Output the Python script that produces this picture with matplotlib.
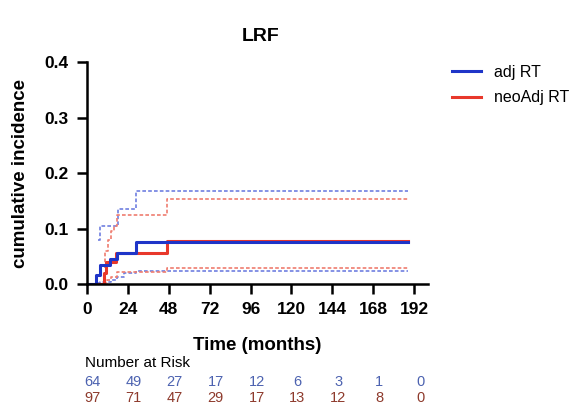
import numpy as np
import matplotlib.pyplot as plt
from matplotlib.transforms import blended_transform_factory

plt.rcParams['font.family'] = ['Liberation Sans', 'DejaVu Sans']

# cumulative incidence curves (months, value)
adj_t = [0, 5.3, 7.8, 13.6, 17.5, 29, 188]
adj_ci = [0, 0.017, 0.035, 0.045, 0.056, 0.075, 0.075]
adj_up_t = [6.5, 7.5, 18.5, 29, 188]
adj_up = [0.079, 0.105, 0.136, 0.168, 0.168]
adj_lo_t = [0, 6, 8, 14, 18, 22, 29, 188]
adj_lo = [0, 0.001, 0.004, 0.008, 0.013, 0.020, 0.024, 0.024]

neo_t = [0, 10, 11.5, 17, 47, 188]
neo_ci = [0, 0.02, 0.04, 0.056, 0.077, 0.077]
neo_up_t = [10, 11, 12.5, 14, 16, 18, 47, 188]
neo_up = [0.03, 0.06, 0.08, 0.095, 0.105, 0.124, 0.153, 0.153]
neo_lo_t = [0, 11, 12, 14, 18, 47, 188]
neo_lo = [0, 0.002, 0.008, 0.013, 0.022, 0.029, 0.029]

risk_times = [0, 24, 48, 72, 96, 120, 144, 168, 192]
adj_risk = [64, 49, 27, 17, 12, 6, 3, 1, 0]
neo_risk = [97, 71, 47, 29, 17, 13, 12, 8, 0]

blue = '#1f35c8'
red = '#e8382b'
blue_l = '#6f7fe0'
red_l = '#ef7d70'

fig = plt.figure(figsize=(5.82, 4.08), dpi=100)
ax = fig.add_axes([0.149, 0.3039, 0.5864, 0.544])

dash = (0, (2.2, 1.3))
ax.step(adj_up_t, adj_up, where='post', color=blue_l, lw=1.2, ls=dash)
ax.step(adj_lo_t, adj_lo, where='post', color=blue_l, lw=1.2, ls=dash)
ax.step(neo_up_t, neo_up, where='post', color=red_l, lw=1.2, ls=dash)
ax.step(neo_lo_t, neo_lo, where='post', color=red_l, lw=1.2, ls=dash)
ax.step(neo_t, neo_ci, where='post', color=red, lw=2.2, label='neoAdj RT')
ax.step(adj_t, adj_ci, where='post', color=blue, lw=2.2, label='adj RT')

ax.set_xlim(0, 200)
ax.set_ylim(0, 0.4)
ax.set_xticks(risk_times)
ax.set_yticks([0, 0.1, 0.2, 0.3, 0.4])
ax.set_yticklabels(['0.0', '0.1', '0.2', '0.3', '0.4'])
for s in ['top', 'right']:
    ax.spines[s].set_visible(False)
for s in ['left', 'bottom']:
    ax.spines[s].set_linewidth(1.8)
ax.tick_params(direction='out', length=7, width=1.8, labelsize=12.5, pad=6)
for lab in ax.get_xticklabels() + ax.get_yticklabels():
    lab.set_fontweight('bold')

ax.set_title('LRF', fontsize=14, fontweight='bold', pad=15, x=0.51)
ax.set_xlabel('Time (months)', fontsize=13.5, fontweight='bold', labelpad=14)
ax.set_ylabel('cumulative incidence', fontsize=13.5, fontweight='bold', labelpad=11)

h, l = ax.get_legend_handles_labels()
fig.legend(h[::-1], l[::-1], loc='upper left', bbox_to_anchor=(0.752, 0.876),
           frameon=False, fontsize=11.5, handlelength=1.8, handletextpad=0.8,
           labelspacing=0.65)

tr = blended_transform_factory(ax.transData, fig.transFigure)
fig.text(0.146, 0.11, 'Number at Risk', fontsize=11, ha='left', va='center')
for t, a, n in zip(risk_times, adj_risk, neo_risk):
    ax.text(t + 3.5, 0.063, str(a), transform=tr, ha='center', va='center',
            fontsize=10.5, color='#4c62b0', clip_on=False)
    ax.text(t + 3.5, 0.025, str(n), transform=tr, ha='center', va='center',
            fontsize=10.5, color='#8e3a2c', clip_on=False)

fig.savefig('out.png', dpi=100)
